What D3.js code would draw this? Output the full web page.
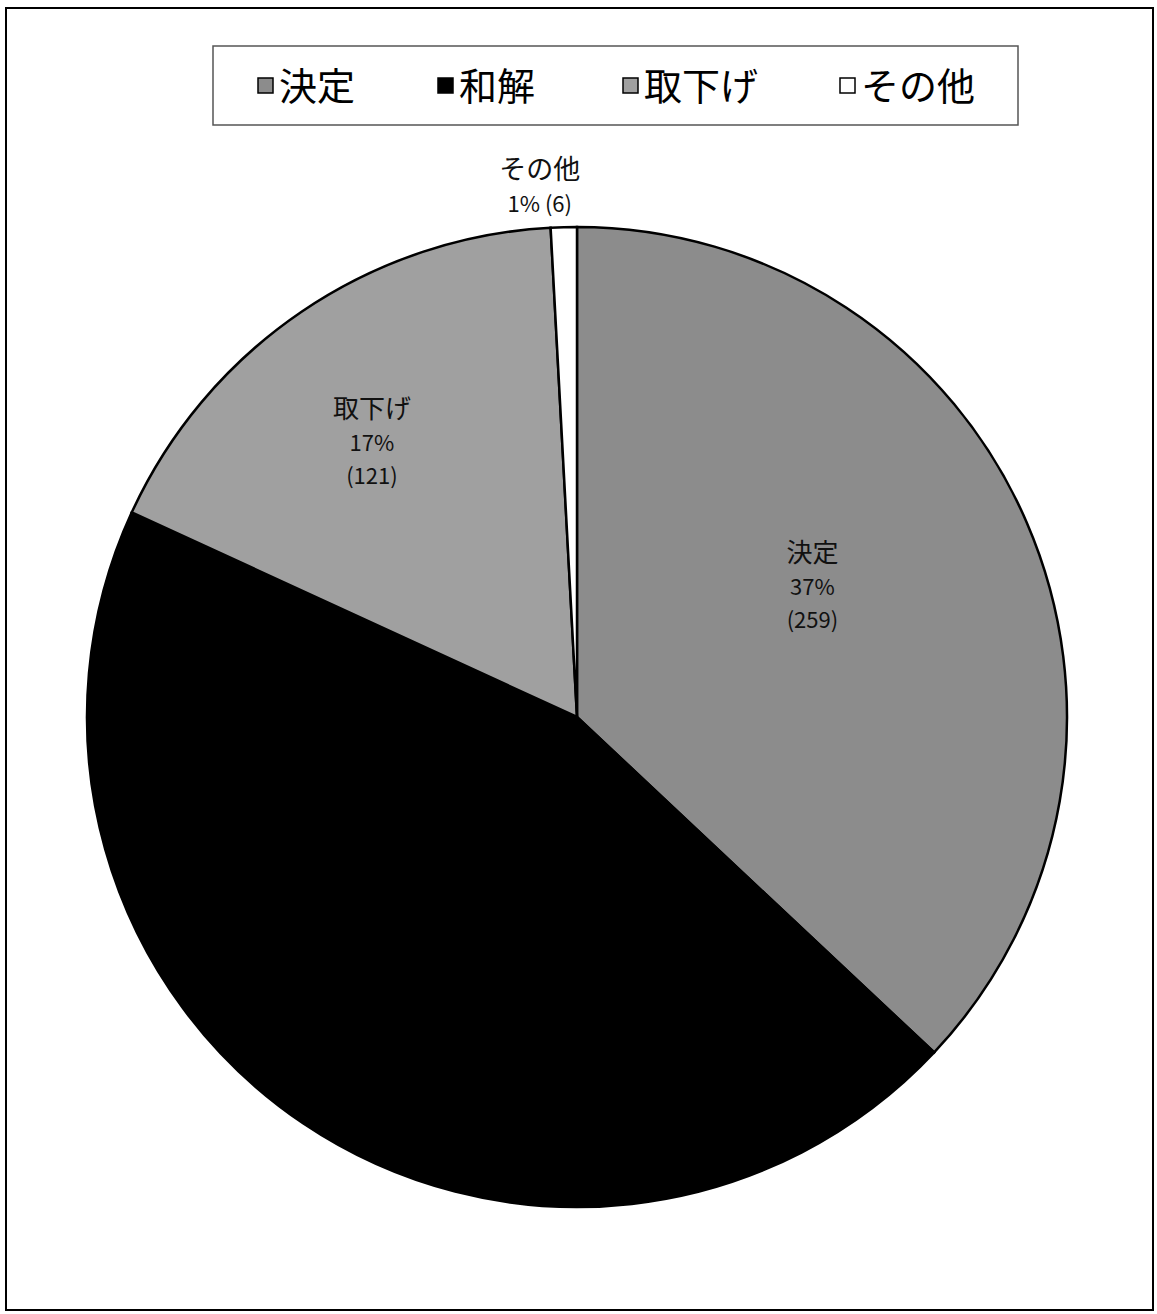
<!DOCTYPE html>
<html>
<head>
<meta charset="utf-8">
<script src="https://cdn.jsdelivr.net/npm/d3@7/dist/d3.min.js"></script>
<style>
  body { margin: 0; background: #fff; }
  text { font-family: "Noto Sans CJK JP", "Noto Sans", sans-serif; }
</style>
</head>
<body>
<div class="chart"></div>
<script type="text/javascript">

var categories = ["決定", "和解", "取下げ", "その他"];
var values = [259, 314, 121, 6];
var percents = ["37%", "45%", "17%", "1%"];
var fills = ["#8c8c8c", "#000000", "#a0a0a0", "#ffffff"];

var width = 1157, height = 1314;
var cx = 577, cy = 717, r = 490;

var svg = d3.select(".chart").append("svg")
  .attr("width", width).attr("height", height);

// outer frame
svg.append("rect")
  .attr("x", 6).attr("y", 8)
  .attr("width", 1147).attr("height", 1302)
  .attr("fill", "none").attr("stroke", "#000").attr("stroke-width", 2);

var pie = d3.pie().sort(null).value(function(d) { return d; });
var arcs = pie(values);
var arc = d3.arc().innerRadius(0).outerRadius(r);

var g = svg.append("g").attr("transform", "translate(" + cx + "," + cy + ")");

g.selectAll("path.slice")
  .data(arcs)
  .enter().append("path")
  .attr("class", "slice")
  .attr("d", arc)
  .attr("fill", function(d, i) { return fills[i]; })
  .attr("stroke", "#000")
  .attr("stroke-width", 2.5);

// labels inside slices (和解 has no label in the original)
// radius factor and angle nudge per labelled slice
var labelLayout = { 0: [0.55, -0.10], 2: [0.70, -0.044] };

[0, 2].forEach(function(i) {
  var a = (arcs[i].startAngle + arcs[i].endAngle) / 2 + labelLayout[i][1];
  var rr = r * labelLayout[i][0];
  var px = Math.sin(a) * rr, py = -Math.cos(a) * rr;
  var t = g.append("text")
    .attr("text-anchor", "middle")
    .attr("fill", "#111");
  t.append("tspan").attr("x", px).attr("y", py - 24).attr("font-size", 26).text(categories[i]);
  t.append("tspan").attr("x", px).attr("y", py + 9).attr("font-size", 22).text(percents[i]);
  t.append("tspan").attr("x", px).attr("y", py + 42).attr("font-size", 22).text("(" + values[i] + ")");
});

// その他 label outside the pie
var a3 = arcs[3];
var mid3 = (a3.startAngle + a3.endAngle) / 2;
var ox = Math.sin(mid3) * (r + 40) - 23, oy = -Math.cos(mid3) * (r + 40);
var t3 = g.append("text").attr("text-anchor", "middle").attr("fill", "#111");
t3.append("tspan").attr("x", ox).attr("y", oy - 8).attr("font-size", 27).text(categories[3]);
t3.append("tspan").attr("x", ox).attr("y", oy + 25).attr("font-size", 22).text(percents[3] + " (" + values[3] + ")");

// legend
svg.append("rect")
  .attr("x", 213).attr("y", 46)
  .attr("width", 805).attr("height", 79)
  .attr("fill", "#fff").attr("stroke", "#555").attr("stroke-width", 1.5);

var legendX = [258, 438, 623, 840];
var lg = svg.selectAll("g.legend")
  .data(categories)
  .enter().append("g")
  .attr("class", "legend")
  .attr("transform", function(d, i) { return "translate(" + legendX[i] + ",86)"; });

lg.append("rect")
  .attr("x", 0).attr("y", -8)
  .attr("width", 15).attr("height", 15)
  .attr("fill", function(d, i) { return fills[i]; })
  .attr("stroke", "#000").attr("stroke-width", 1.5);

lg.append("text")
  .attr("x", 21).attr("y", 14)
  .attr("font-size", 38)
  .attr("fill", "#000")
  .text(function(d) { return d; });

</script>
</body>
</html>
